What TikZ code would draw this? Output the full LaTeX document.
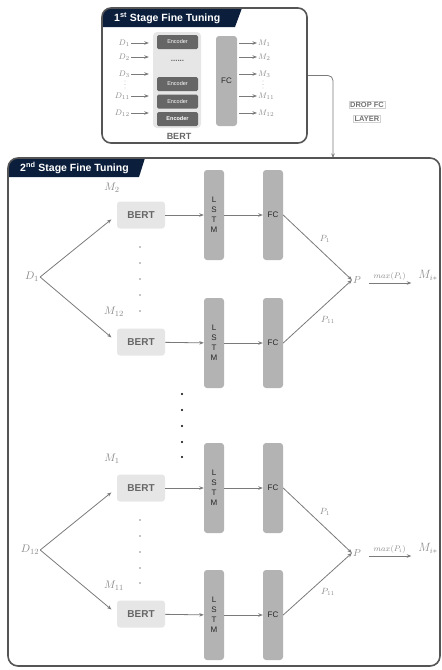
\documentclass[tikz,border=0pt]{standalone}
\usepackage{fontspec}
\setsansfont{Liberation Sans}
\usetikzlibrary{arrows.meta,calc}
\definecolor{navy}{HTML}{0B1E3C}
\definecolor{framec}{HTML}{555555}
\definecolor{lgray}{HTML}{E6E6E6}
\definecolor{mgray}{HTML}{B3B3B3}
\definecolor{dgray}{HTML}{666666}
\definecolor{tgray}{HTML}{8A8A8A}
\definecolor{agray}{HTML}{7A7A7A}
\newcommand{\fsz}[1]{\fontsize{#1}{#1}\selectfont}
\begin{document}
\begin{tikzpicture}[x=1pt,y=-1pt,font=\sffamily,
  arr/.style={draw=agray,line width=0.8pt,-{Stealth[length=4.5pt,width=3.5pt]}},
  lab/.style={text=tgray,inner sep=1pt},
  bigbox/.style={draw=framec,line width=1.6pt,rounded corners=9pt},
  titletxt/.style={text=white,font=\sffamily\bfseries\fsz{10.5},anchor=west,inner sep=0pt},
  bertS/.style={fill=lgray,rounded corners=3pt,minimum width=48pt,minimum height=27pt,
    font=\sffamily\bfseries\fsz{10},text=dgray},
  lstmS/.style={fill=mgray,rounded corners=3pt,minimum width=20pt,minimum height=90pt,
    align=center,font=\sffamily\fontsize{8}{10}\selectfont,text=black!85},
  fcS/.style={fill=mgray,rounded corners=3pt,minimum width=20pt,minimum height=90pt,
    font=\sffamily\fsz{8},text=black!85},
  encS/.style={fill=dgray,rounded corners=1.5pt,minimum width=41pt,minimum height=14pt,
    text=white,font=\sffamily\fsz{5.5}},
  dropS/.style={draw=black!18,line width=0.4pt,inner sep=1pt,text=black!55,
    font=\sffamily\bfseries\fsz{7.5}},
  dotS/.style={fill=tgray}
]
\useasboundingbox (0,0) rectangle (442,670);

% ---------- stage 1 ----------
\begin{scope}
  \clip[rounded corners=9pt] (102,8) rectangle (307,143);
  \fill[navy] (102,8) -- (242,8) -- (235,27) -- (102,27) -- cycle;
\end{scope}
\node[bigbox,minimum width=205pt,minimum height=135pt] (topbox) at (204.5,75.5) {};
\node[titletxt] (t1) at (114,18) {1\textsuperscript{st} Stage Fine Tuning};

\node[fill=lgray,rounded corners=4pt,minimum width=48pt,minimum height=96pt] (tbert) at (177,80) {};
\node[encS] (e1) at (177.5,42) {Encoder};
\node[text=dgray,font=\sffamily\bfseries\fsz{8}] (edots) at (177.5,61) {......};
\node[encS] (e2) at (177.5,84) {Encoder};
\node[encS] (e3) at (177.5,101.5) {Encoder};
\node[encS,font=\sffamily\bfseries\fsz{5.5}] (e4) at (177.5,119) {Encoder};
\node[text=dgray,font=\sffamily\bfseries\fsz{9}] (tbertlab) at (179,136) {BERT};
\node[fcS,minimum width=21pt] (tfc) at (226.5,81) {FC};

\begin{scope}[every node/.style={lab,font=\fsz{8}}]
  \node[anchor=east] (d1) at (131,43) {$D_1$};
  \node[anchor=east] (d2) at (131,57) {$D_2$};
  \node[anchor=east] (d3) at (131,74) {$D_3$};
  \node[anchor=east] (d11) at (131,96) {$D_{11}$};
  \node[anchor=east] (d12) at (131,113) {$D_{12}$};
  \node[anchor=west] (m1) at (257,43) {$M_1$};
  \node[anchor=west] (m2t) at (257,57) {$M_2$};
  \node[anchor=west] (m3) at (257,74) {$M_3$};
  \node[anchor=west] (m11) at (257,96) {$M_{11}$};
  \node[anchor=west] (m12t) at (257,113) {$M_{12}$};
\end{scope}
\foreach \y in {81,84.5,88} {
  \fill[dotS] (125,\y) circle (0.45);
  \fill[dotS] (263,\y) circle (0.45);
}
\foreach \d in {d1,d2,d3,d11,d12}
  \draw[arr,line width=0.7pt,shorten >=4pt] (\d.east) -- (\d.east -| tbert.west);
\foreach \m in {m1,m2t,m3,m11,m12t}
  \draw[arr,line width=0.7pt,shorten <=2pt] (\m.west -| tfc.east) -- (\m.west);

% ---------- connector ----------
\coordinate (dropin) at (333,158);
\draw[arr,rounded corners=5pt] (topbox.east) -| (dropin);
\node[dropS] (drop1) at (367,105) {DROP FC};
\node[dropS] (drop2) at (367,118.5) {LAYER};

% ---------- stage 2 ----------
\begin{scope}
  \clip[rounded corners=10pt] (8,158) rectangle (440,666);
  \fill[navy] (8,158) -- (145,158) -- (139,177) -- (8,177) -- cycle;
\end{scope}
\node[bigbox,rounded corners=10pt,minimum width=432pt,minimum height=508pt] (stage2) at (224,412) {};
\node[titletxt] (t2) at (20,167.5) {2\textsuperscript{nd} Stage Fine Tuning};

% group A
\node[bertS] (b1) at (141,215) {BERT};
\node[lstmS] (l1) at (214,215) {L\\S\\T\\M};
\node[fcS] (f1) at (273,215) {FC};
\node[bertS] (b2) at (141,342) {BERT};
\node[lstmS] (l2) at (214,343) {L\\S\\T\\M};
\node[fcS] (f2) at (273,343) {FC};
\node[lab,font=\fsz{11}] (mA1) at (112,188) {$M_2$};
\node[lab,font=\fsz{11}] (mA2) at (114,312) {$M_{12}$};
\node[lab,font=\fsz{11}] (dA) at (32,277) {$D_1$};
\node[lab,font=\fsz{10}] (pA) at (357,280) {$P$};
\node[lab,font=\fsz{12}] (miA) at (428,275) {$M_{i*}$};
\node[lab,font=\fsz{9}] (pA1) at (325,239) {$P_1$};
\node[lab,font=\fsz{9}] (pA11) at (328,320) {$P_{11}$};
\draw[arr,shorten >=7pt] (dA.east) -- (b1.west);
\draw[arr,shorten >=7pt] (dA.east) -- (b2.west);
\draw[arr] (b1) -- (l1);
\draw[arr] (l1) -- (f1);
\draw[arr] (b2) -- (l2);
\draw[arr] (l2) -- (f2);
\draw[arr] (f1.east) -- (pA.west);
\draw[arr] (f2.east) -- (pA.west);
\draw[arr,shorten <=7pt,shorten >=6pt] ([yshift=-3pt]pA.east) --
  node[above=1pt,lab,font=\fsz{8}] (maxA) {$max(P_i)$} ([yshift=-3pt]pA.east -| miA.west);
\foreach \y in {247,263,279,295,311} \fill[dotS] (140,\y) circle (0.8);

% middle dots
\foreach \y in {394,410,426,442,457} \fill[black] (182,\y) circle (1.1);

% group B
\node[bertS] (b3) at (141,488) {BERT};
\node[lstmS] (l3) at (214,488) {L\\S\\T\\M};
\node[fcS] (f3) at (273,488) {FC};
\node[bertS] (b4) at (141,614) {BERT};
\node[lstmS] (l4) at (214,615) {L\\S\\T\\M};
\node[fcS] (f4) at (273,615) {FC};
\node[lab,font=\fsz{11}] (mB1) at (112,459) {$M_1$};
\node[lab,font=\fsz{11}] (mB2) at (114,586) {$M_{11}$};
\node[lab,font=\fsz{11}] (dB) at (30,550) {$D_{12}$};
\node[lab,font=\fsz{10}] (pB) at (357,553) {$P$};
\node[lab,font=\fsz{12}] (miB) at (428,548) {$M_{i*}$};
\node[lab,font=\fsz{9}] (pB1) at (325,512) {$P_1$};
\node[lab,font=\fsz{9}] (pB11) at (328,592) {$P_{11}$};
\draw[arr,shorten >=7pt] (dB.east) -- (b3.west);
\draw[arr,shorten >=7pt] (dB.east) -- (b4.west);
\draw[arr] (b3) -- (l3);
\draw[arr] (l3) -- (f3);
\draw[arr] (b4) -- (l4);
\draw[arr] (l4) -- (f4);
\draw[arr] (f3.east) -- (pB.west);
\draw[arr] (f4.east) -- (pB.west);
\draw[arr,shorten <=7pt,shorten >=6pt] ([yshift=-3pt]pB.east) --
  node[above=1pt,lab,font=\fsz{8}] (maxB) {$max(P_i)$} ([yshift=-3pt]pB.east -| miB.west);
\foreach \y in {520,536,552,568,583} \fill[dotS] (140,\y) circle (0.8);
\end{tikzpicture}
\end{document}
